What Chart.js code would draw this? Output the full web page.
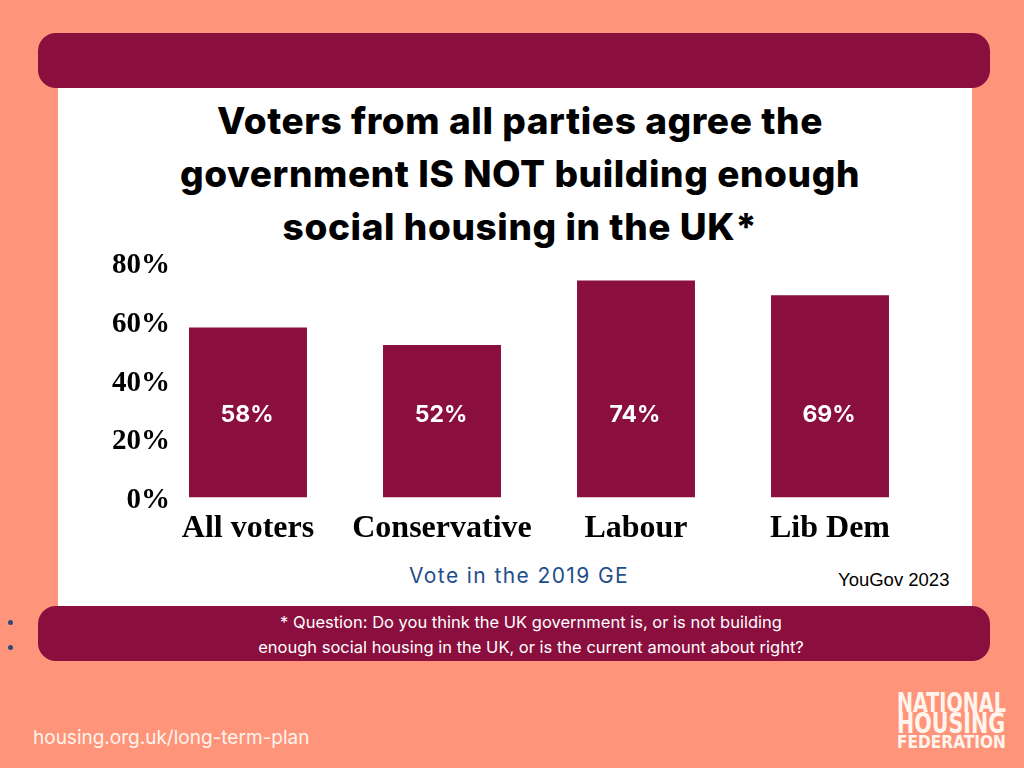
<!DOCTYPE html>
<html>
<head>
<meta charset="utf-8">
<script src="https://cdn.jsdelivr.net/npm/chart.js@4"></script>
<style>
  body { margin:0; width:1024px; height:768px; background:#FE957A; position:relative; overflow:hidden; font-family:'Inter', sans-serif; }
  .bar { position:absolute; left:38px; width:952px; background:#8A0E3E; border-radius:18px; }
  #panel { position:absolute; left:58px; top:80px; width:914px; height:530px; background:#fff; }
  #title { position:absolute; left:58px; width:924px; top:94px; text-align:center; font-weight:800; font-size:37px; line-height:53px; color:#000; letter-spacing:0.6px; }
  #chartbox { position:absolute; left:58px; top:240px; width:914px; height:320px; }
  #xtitle { position:absolute; left:409px; top:563px; font-size:21px; letter-spacing:1.4px; color:#1F4E8C; }
  #src { position:absolute; left:838px; top:569px; font-family:'Liberation Sans', sans-serif; font-size:18.5px; color:#000; }
  #note { position:absolute; left:55px; width:952px; top:610px; text-align:center; color:#fff; font-size:16.5px; line-height:25px; }
  .dot { position:absolute; left:8px; width:5px; height:5px; border-radius:50%; background:#2F4A7A; }
  #url { position:absolute; left:33px; top:726px; font-size:19px; color:#FFF3EC; }
  .logo { position:absolute; left:897px; color:#FFF5EE; font-family:'DejaVu Sans Condensed','DejaVu Sans',sans-serif; font-weight:bold; white-space:nowrap; transform-origin:left top; }
</style>
</head>
<body>
<div id="panel"></div>
<div class="bar" style="top:33px;height:55px;"></div>
<div class="bar" style="top:606px;height:55px;"></div>
<div id="title">Voters from all parties agree the<br>government IS NOT building enough<br>social housing in the UK*</div>
<div id="chartbox"><canvas id="myChart"></canvas></div>
<div id="xtitle">Vote in the 2019 GE</div>
<div id="src">YouGov 2023</div>
<div class="dot" style="top:620px;"></div>
<div class="dot" style="top:645px;"></div>
<div id="note">* Question: Do you think the UK government is, or is not building<br>enough social housing in the UK, or is the current amount about right?</div>
<div id="url">housing.org.uk/long-term-plan</div>
<div class="logo" style="top:690px;font-size:26px;line-height:26px;transform:scaleX(0.82);">NATIONAL</div>
<div class="logo" style="top:709px;font-size:29px;line-height:29px;transform:scaleX(0.79);">HOUSING</div>
<div class="logo" style="top:733px;font-size:18px;line-height:18px;transform:scaleX(0.95);">FEDERATION</div>
<script>
  const parties = ['All voters', 'Conservative', 'Labour', 'Lib Dem']
  const share = [58, 52, 74, 69]
  const y_ticks = [0, 20, 40, 60, 80]
  const bar_color = '#8A0E3E'

  // values written inside the bars, all at the same height
  const inside_labels = {
    id: 'insideLabels',
    afterDatasetsDraw(chart) {
      const ctx = chart.ctx
      const meta = chart.getDatasetMeta(0)
      const y = chart.scales.y.getPixelForValue(28)
      ctx.save()
      ctx.fillStyle = '#fff'
      ctx.font = "bold 23px Inter, sans-serif"
      ctx.textAlign = 'center'
      ctx.textBaseline = 'middle'
      meta.data.forEach((bar, i) => {
        ctx.fillText(share[i] + '%', bar.x - 1, y)
      })
      ctx.restore()
    }
  }

  const config = {
    type: 'bar',
    data: {
      labels: parties,
      datasets: [{
        data: share,
        backgroundColor: bar_color,
        categoryPercentage: 1,
        barPercentage: 0.608,
      }]
    },
    options: {
      responsive: true,
      maintainAspectRatio: false,
      animation: false,
      layout: { padding: { top: 23, right: 45, left: 0, bottom: 0 } },
      plugins: { legend: { display: false }, tooltip: { enabled: false } },
      scales: {
        x: {
          grid: { display: false, drawTicks: false },
          border: { display: false },
          ticks: { color: '#000', padding: 12, font: { family: 'Liberation Serif', weight: 'bold', size: 32 } }
        },
        y: {
          min: 0,
          max: 80,
          afterBuildTicks: scale => { scale.ticks = y_ticks.map(v => ({ value: v })) },
          afterFit: scale => { scale.width = 93 },
          grid: { display: false, drawTicks: false },
          border: { display: false },
          ticks: {
            color: '#000',
            mirror: true,
            crossAlign: 'far',
            padding: -39,
            labelOffset: 3,
            callback: v => v + '%',
            font: { family: 'Liberation Serif', weight: 'bold', size: 29 }
          }
        }
      }
    },
    plugins: [inside_labels]
  }

  const myChart = new Chart(document.getElementById('myChart'), config)
</script>
</body>
</html>
